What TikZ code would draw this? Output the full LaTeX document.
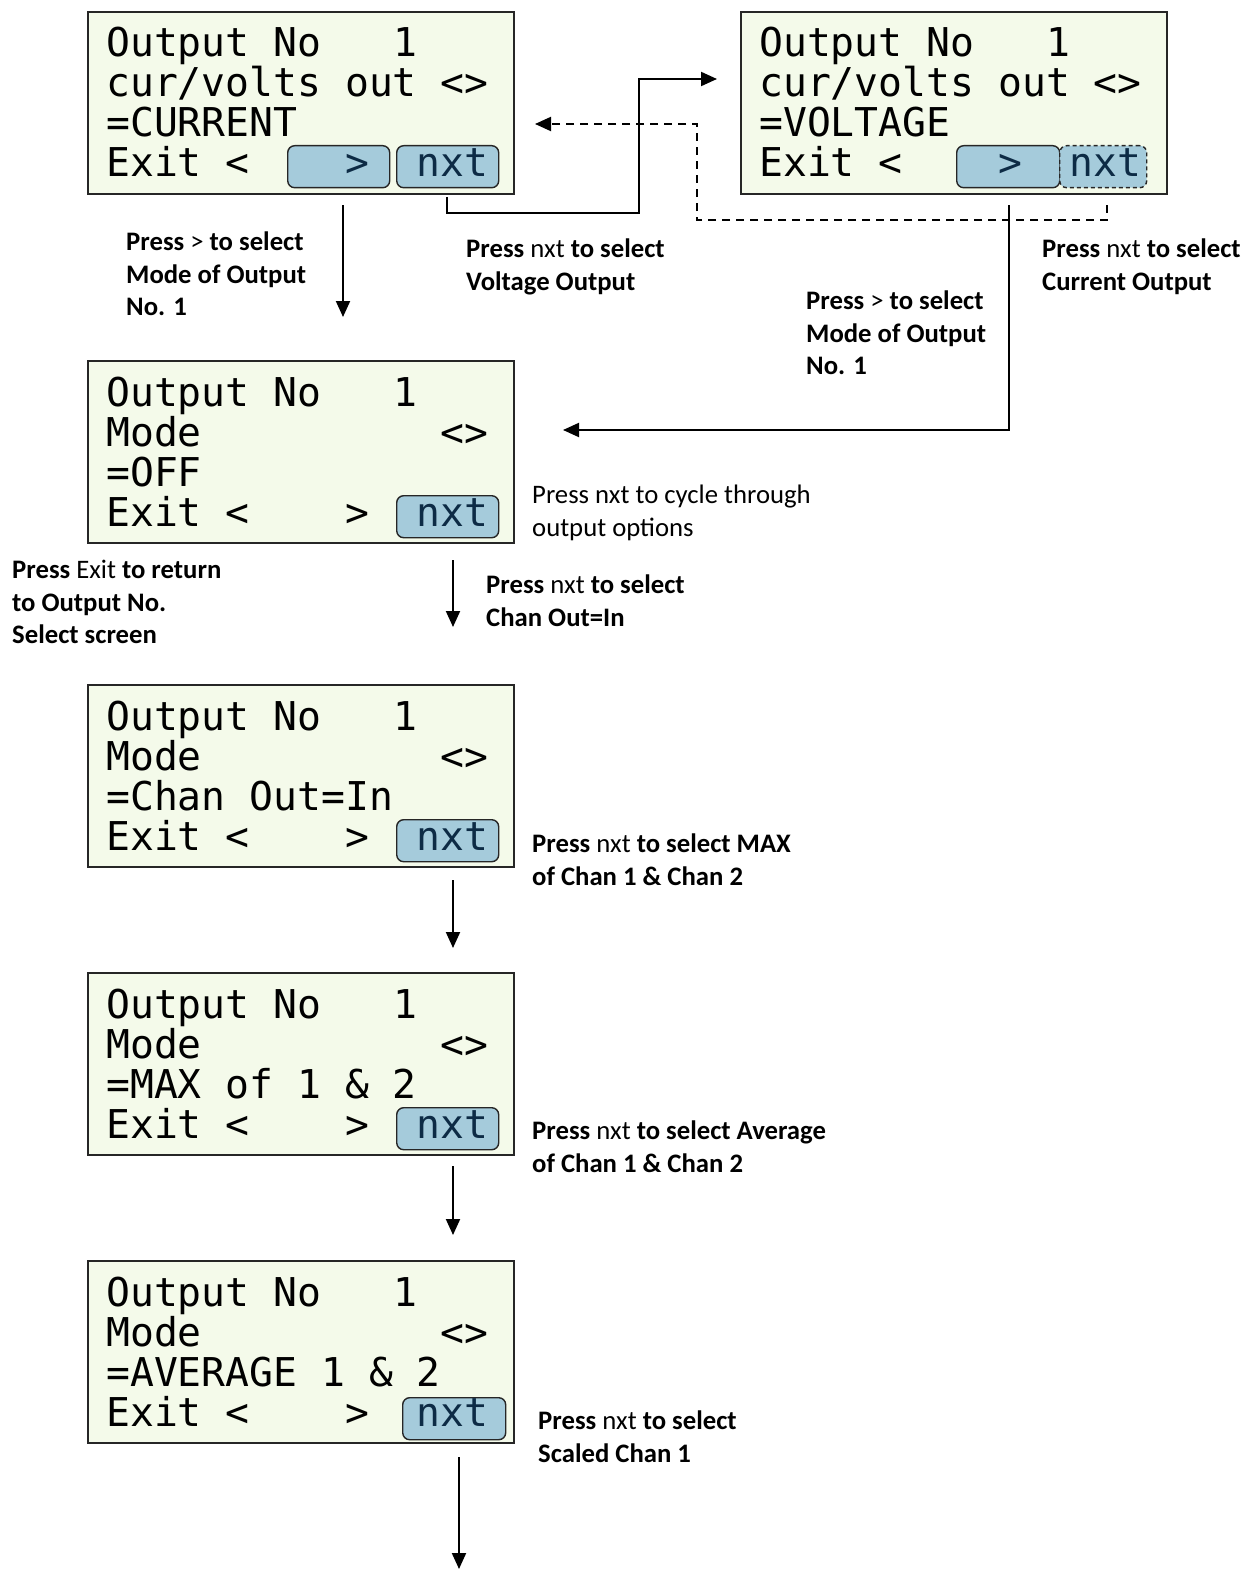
\documentclass[tikz,border=0pt]{standalone}
\usepackage{fontspec}
\setmainfont{Carlito}
\newfontfamily\lcdfont{DejaVu Sans Mono}
\usetikzlibrary{arrows.meta}
\definecolor{lcdbg}{HTML}{F4FAEA}
\definecolor{btnbg}{HTML}{A5CBDB}
\definecolor{btntx}{HTML}{0D2B45}
\definecolor{edge}{HTML}{262626}
\tikzset{
  lcdbox/.style={draw=edge, line width=2pt, fill=lcdbg, minimum width=426pt, minimum height=182pt, anchor=north west, inner sep=0},
  btn/.style={draw=edge, line width=1.4pt, fill=btnbg, rounded corners=7pt, minimum height=42pt, anchor=north west, inner sep=0},
  lcdt/.style={anchor=base west, inner sep=0, font=\lcdfont\fontsize{39.7}{40}\selectfont},
  lbl/.style={anchor=north west, inner sep=0, align=left, font=\fontsize{26.7}{32.5}\selectfont\bfseries},
  lblr/.style={anchor=north west, inner sep=0, align=left, font=\fontsize{26.7}{32.5}\selectfont},
  arr/.style={line width=2pt, -{Triangle[length=16pt,width=14pt]}},
  darr/.style={line width=2pt, dash pattern=on 8pt off 6pt, -{Triangle[length=16pt,width=14pt]}}
}
% name, char index, line, text, options
\newcommand\seg[5]{\node[lcdt,#5] (#1) at ({19+#2*23.9},{46+#3*40}) {#4};}
\begin{document}
\begin{tikzpicture}[x=1pt,y=-1pt]
\path[use as bounding box] (0,0) rectangle (1248,1573);

% ---------- Box 1 : CURRENT ----------
\node[lcdbox] (b1) at (87,11) {};
\begin{scope}[shift={(87,11)}]
  \node[btn, minimum width=102pt] (b1g) at (200,134) {};
  \node[btn, minimum width=102pt] (b1n) at (309,134) {};
  \seg{b1t1}{0}{0}{Output No}{}
  \seg{b1t2}{12}{0}{1}{}
  \seg{b1t3}{0}{1}{cur/volts out <>}{}
  \seg{b1t4}{0}{2}{=CURRENT}{}
  \seg{b1t5}{0}{3}{Exit <}{}
  \seg{b1t6}{10}{3}{>}{text=btntx}
  \seg{b1t7}{13}{3}{nxt}{text=btntx}
\end{scope}

% ---------- Box 2 : VOLTAGE ----------
\node[lcdbox] (b2) at (740,11) {};
\begin{scope}[shift={(740,11)}]
  \node[btn, minimum width=103pt] (b2g) at (216,134) {};
  \node[btn, minimum width=87pt, dash pattern=on 4pt off 3pt] (b2n) at (319,134) {};
  \seg{b2t1}{0}{0}{Output No}{}
  \seg{b2t2}{12}{0}{1}{}
  \seg{b2t3}{0}{1}{cur/volts out <>}{}
  \seg{b2t4}{0}{2}{=VOLTAGE}{}
  \seg{b2t5}{0}{3}{Exit <}{}
  \seg{b2t6}{10}{3}{>}{text=btntx}
  \seg{b2t7}{13}{3}{nxt}{text=btntx}
\end{scope}

% ---------- Box 3 : OFF ----------
\node[lcdbox] (b3) at (87,360) {};
\begin{scope}[shift={(87,360)}]
  \node[btn, minimum width=102pt] (b3n) at (309,135) {};
  \seg{b3t1}{0}{0}{Output No}{}
  \seg{b3t2}{12}{0}{1}{}
  \seg{b3t3}{0}{1}{Mode}{}
  \seg{b3t3b}{14}{1}{<>}{}
  \seg{b3t4}{0}{2}{=OFF}{}
  \seg{b3t5}{0}{3}{Exit <}{}
  \seg{b3t6}{10}{3}{>}{}
  \seg{b3t7}{13}{3}{nxt}{text=btntx}
\end{scope}

% ---------- Box 4 : Chan Out=In ----------
\node[lcdbox] (b4) at (87,684) {};
\begin{scope}[shift={(87,684)}]
  \node[btn, minimum width=102pt] (b4n) at (309,135) {};
  \seg{b4t1}{0}{0}{Output No}{}
  \seg{b4t2}{12}{0}{1}{}
  \seg{b4t3}{0}{1}{Mode}{}
  \seg{b4t3b}{14}{1}{<>}{}
  \seg{b4t4}{0}{2}{=Chan Out=In}{}
  \seg{b4t5}{0}{3}{Exit <}{}
  \seg{b4t6}{10}{3}{>}{}
  \seg{b4t7}{13}{3}{nxt}{text=btntx}
\end{scope}

% ---------- Box 5 : MAX ----------
\node[lcdbox] (b5) at (87,972) {};
\begin{scope}[shift={(87,972)}]
  \node[btn, minimum width=102pt] (b5n) at (309,135) {};
  \seg{b5t1}{0}{0}{Output No}{}
  \seg{b5t2}{12}{0}{1}{}
  \seg{b5t3}{0}{1}{Mode}{}
  \seg{b5t3b}{14}{1}{<>}{}
  \seg{b5t4}{0}{2}{=MAX of 1 \& 2}{}
  \seg{b5t5}{0}{3}{Exit <}{}
  \seg{b5t6}{10}{3}{>}{}
  \seg{b5t7}{13}{3}{nxt}{text=btntx}
\end{scope}

% ---------- Box 6 : AVERAGE ----------
\node[lcdbox] (b6) at (87,1260) {};
\begin{scope}[shift={(87,1260)}]
  \node[btn, minimum width=103pt] (b6n) at (315,137) {};
  \seg{b6t1}{0}{0}{Output No}{}
  \seg{b6t2}{12}{0}{1}{}
  \seg{b6t3}{0}{1}{Mode}{}
  \seg{b6t3b}{14}{1}{<>}{}
  \seg{b6t4}{0}{2}{=AVERAGE 1 \& 2}{}
  \seg{b6t5}{0}{3}{Exit <}{}
  \seg{b6t6}{10}{3}{>}{}
  \seg{b6t7}{13}{3}{nxt}{text=btntx}
\end{scope}

% ---------- connector end points ----------
\coordinate (p1s) at (343,205);  \coordinate (p1e) at (343,317);
\coordinate (p2s) at (447,197);  \coordinate (p2e) at (717,79);
\coordinate (p3s) at (1107,205); \coordinate (p3e) at (535,124);
\coordinate (p4s) at (1009,205); \coordinate (p4e) at (563,430);
\coordinate (p5s) at (453,560);  \coordinate (p5e) at (453,627);
\coordinate (p6s) at (453,880);  \coordinate (p6e) at (453,948);
\coordinate (p7s) at (453,1166); \coordinate (p7e) at (453,1235);
\coordinate (p8s) at (459,1457); \coordinate (p8e) at (459,1569);

\draw[arr] (p1s) -- (p1e);
\draw[arr] (p2s) -- (447,213) -- (639,213) -- (639,79) -- (p2e);
\draw[darr] (p3s) -- (1107,220) -- (697,220) -- (697,124) -- (p3e);
\draw[arr] (p4s) -- (1009,430) -- (p4e);
\draw[arr] (p5s) -- (p5e);
\draw[arr] (p6s) -- (p6e);
\draw[arr] (p7s) -- (p7e);
\draw[arr] (p8s) -- (p8e);

% ---------- labels ----------
\node[lbl] (l1) at (126,232) {Press {\mdseries >} to select\\Mode of Output\\No. 1};
\node[lbl] (l2) at (466,239) {Press {\mdseries nxt} to select\\Voltage Output};
\node[lbl] (l3) at (1042,239) {Press {\mdseries nxt} to select\\Current Output};
\node[lbl] (l4) at (806,291) {Press {\mdseries >} to select\\Mode of Output\\No. 1};
\node[lblr] (l5) at (532,485) {Press nxt to cycle through\\output options};
\node[lbl] (l6) at (12,560) {Press {\mdseries Exit} to return\\to Output No.\\Select screen};
\node[lbl] (l7) at (486,575) {Press {\mdseries nxt} to select\\Chan Out=In};
\node[lbl] (l8) at (532,834) {Press {\mdseries nxt} to select MAX\\of Chan 1 \& Chan 2};
\node[lbl] (l9) at (532,1121) {Press {\mdseries nxt} to select Average\\of Chan 1 \& Chan 2};
\node[lbl] (l10) at (538,1411) {Press {\mdseries nxt} to select\\Scaled Chan 1};
\end{tikzpicture}
\end{document}
